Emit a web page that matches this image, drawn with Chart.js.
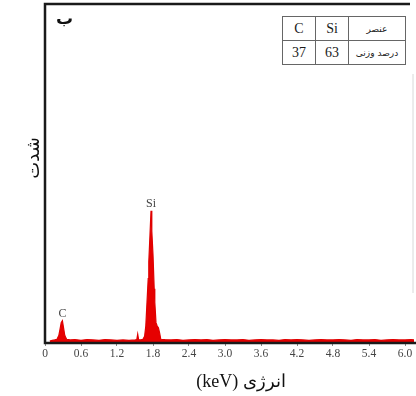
<!DOCTYPE html>
<html>
<head>
<meta charset="utf-8">
<script src="https://cdn.jsdelivr.net/npm/chart.js@4.4.1/dist/chart.umd.min.js"></script>
<style>
  html, body { margin: 0; padding: 0; background: #fff; }
  #wrap { position: relative; width: 416px; height: 396px; overflow: hidden; }
  #c { position: absolute; left: 0; top: 0; }
  .ytitle { position: absolute; left: 32px; top: 158px; transform: translate(-50%, -50%) rotate(-90deg);
            font: 18px "DejaVu Sans", sans-serif; color: #111; white-space: nowrap; }
  .xtitle { position: absolute; left: 241px; top: 381px; transform: translate(-50%, -50%);
            font: 18px "Liberation Serif", "DejaVu Serif", serif; color: #111; white-space: nowrap; }
  .panel { position: absolute; left: 56px; top: 8px; font: bold 17px "DejaVu Sans", sans-serif; color: #111; line-height: 20px; }
  table.comp { position: absolute; left: 282px; top: 16px; border-collapse: collapse; background: #fff;
               font-family: "Liberation Serif", serif; color: #111; }
  table.comp td { border: 1px solid #666; text-align: center; padding: 0; height: 23px; font-size: 14px; color: #1a1a1a; }
  table.comp td.lab { font: 9px "DejaVu Sans", sans-serif; width: 56px; }
  table.comp td.num { width: 32px; }
</style>
</head>
<body>
<div id="wrap">
  <canvas id="c" width="416" height="396"></canvas>
  <div class="panel">ب</div>
  <div class="ytitle">شدت</div>
  <div class="xtitle" dir="rtl">انرژی (keV)</div>
  <table class="comp" id="comp"></table>
</div>
<script>
// EDS spectrum (energy in keV, intensity in arbitrary units, 0..100 full height)
const energy = [
  0.08, 0.12, 0.16, 0.20, 0.23, 0.25, 0.27, 0.29, 0.31, 0.33, 0.36,
  0.42, 0.50, 0.60, 0.70, 0.80, 0.90, 1.00, 1.10, 1.20, 1.30, 1.40, 1.50,
  1.53, 1.545, 1.56, 1.59, 1.62,
  1.64, 1.66, 1.68, 1.70, 1.72, 1.73, 1.75, 1.767, 1.78, 1.80, 1.82, 1.83, 1.85, 1.87, 1.89, 1.91, 1.93,
  2.00, 2.10, 2.20, 2.30, 2.40, 2.50, 2.60, 2.70, 2.80, 2.90, 3.00, 3.10, 3.20, 3.30, 3.40,
  3.50, 3.60, 3.70, 3.80, 3.90, 4.00, 4.10, 4.20, 4.30, 4.40, 4.50, 4.60, 4.70, 4.80, 4.90,
  5.00, 5.10, 5.20, 5.30, 5.40, 5.50, 5.60, 5.70, 5.80, 5.90, 6.00, 6.10, 6.15
];
const counts = [
  0.6, 0.8, 0.9, 1.1, 2.2, 4.0, 6.0, 6.6, 4.4, 2.2, 1.1,
  0.9, 1.0, 0.8, 1.0, 0.9, 0.8, 1.0, 0.9, 0.8, 0.9, 0.8, 0.9,
  1.0, 2.6, 1.0, 0.9, 1.0,
  1.3, 2.0, 5.0, 12, 19, 24, 32, 39, 33, 26, 16, 12, 6, 5, 4.5, 3, 1.1,
  1.0, 0.9, 1.0, 0.8, 0.9, 1.0, 0.9, 1.0, 0.8, 0.9, 1.0, 0.9, 0.9, 1.0, 0.8,
  0.9, 1.0, 0.9, 0.9, 0.8, 1.0, 0.9, 1.0, 0.9, 0.8, 0.9, 1.0, 0.9, 0.9, 1.0,
  0.9, 0.8, 1.0, 0.9, 0.9, 1.0, 0.8, 0.9, 1.0, 0.9, 0.9, 1.0, 0.9
];
const tickValues = [0, 0.6, 1.2, 1.8, 2.4, 3.0, 3.6, 4.2, 4.8, 5.4, 6.0];
const tickLabels = ["0", "0.6", "1.2", "1.8", "2.4", "3.0", "3.6", "4.2", "4.8", "5.4", "6.0"];
const peakNames = ["C", "Si"];
const peakEnergy = [0.29, 1.767];
const peakHeight = [6.6, 39];
const elements = ["C", "Si"];
const weightPct = ["37", "63"];

// composition table (RTL: label column on the right)
document.getElementById("comp").innerHTML =
  "<tr>" + elements.map(e => `<td class="num">${e}</td>`).join("") + `<td class="lab">عنصر</td></tr>` +
  "<tr>" + weightPct.map(v => `<td class="num">${v}</td>`).join("") + `<td class="lab">درصد وزنی</td></tr>`;

// frame: dark left/top/bottom, faint right edge
const frame = {
  id: "frame",
  afterDatasetsDraw(chart) {
    const { ctx, chartArea: a } = chart;
    ctx.save();
    ctx.strokeStyle = "#1a1a1a";
    ctx.lineWidth = 2.5;
    ctx.beginPath();
    ctx.moveTo(a.right - 4, a.top); ctx.lineTo(a.left, a.top);
    ctx.lineTo(a.left, a.bottom); ctx.lineTo(chart.width, a.bottom);
    ctx.stroke();
    ctx.strokeStyle = "#d8d8d8";
    ctx.lineWidth = 1;
    ctx.beginPath();
    ctx.moveTo(a.right - 1, a.top + 70); ctx.lineTo(a.right - 1, a.bottom - 50);
    ctx.stroke();
    ctx.restore();
  },
};

// element labels above peaks
const peakLabels = {
  id: "peakLabels",
  afterDatasetsDraw(chart) {
    const { ctx, scales: { x, y } } = chart;
    ctx.save();
    ctx.fillStyle = "#444";
    ctx.font = "12px 'Liberation Serif', serif";
    ctx.textAlign = "center";
    ctx.textBaseline = "bottom";
    peakNames.forEach((n, i) => {
      ctx.fillText(n, x.getPixelForValue(peakEnergy[i]), y.getPixelForValue(peakHeight[i]) - 1);
    });
    ctx.restore();
  },
};

new Chart(document.getElementById("c"), {
  type: "line",
  data: {
    datasets: [{
      data: energy.map((e, i) => ({ x: e, y: counts[i] })),
      borderColor: "#e00000", backgroundColor: "#e60000",
      borderWidth: 1.2, pointRadius: 0, tension: 0, fill: "origin",
    }],
  },
  options: {
    responsive: false, animation: false,
    layout: { padding: { left: 45, top: 4, right: 2, bottom: 0 } },
    plugins: { legend: { display: false }, tooltip: { enabled: false } },
    scales: {
      x: {
        type: "linear", min: 0, max: 6.15,
        afterBuildTicks: s => { s.ticks = tickValues.map(v => ({ value: v })); },
        afterFit: s => { s.height = 53; },
        border: { display: false },
        grid: { drawOnChartArea: false, tickLength: 3, color: "#888" },
        ticks: {
          callback: (v, i) => tickLabels[i], color: "#444", padding: 1, maxRotation: 0, autoSkip: false,
          font: { family: "'Liberation Serif', serif", size: 11.5 },
        },
      },
      y: { display: false, min: 0, max: 100 },
    },
  },
  plugins: [frame, peakLabels],
});
</script>
</body>
</html>
